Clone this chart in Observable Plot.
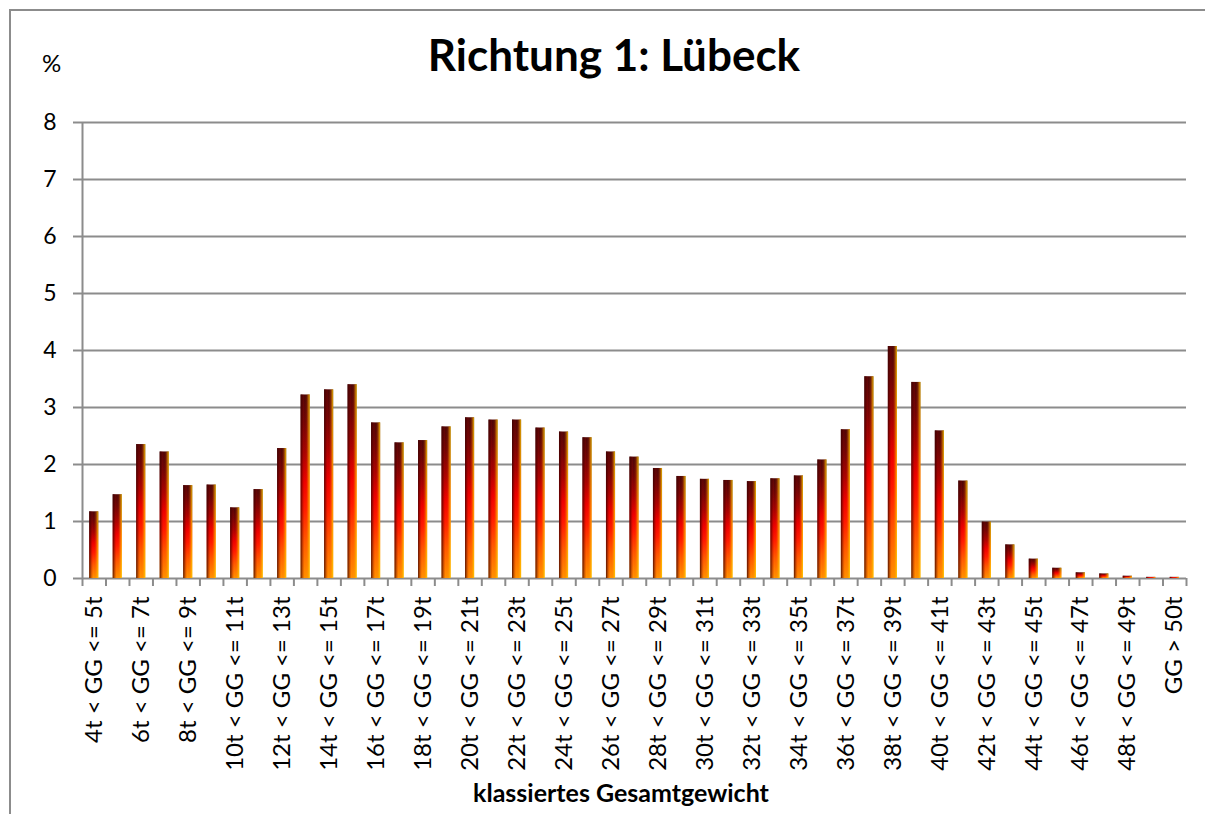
<!DOCTYPE html>
<html>
<head>
<meta charset="utf-8">
<script src="https://cdn.jsdelivr.net/npm/d3@7"></script>
<script src="https://cdn.jsdelivr.net/npm/@observablehq/plot@0.6"></script>
<style>
  body { margin: 0; background: #fff; }
  #wrap { position: relative; width: 1205px; height: 814px; overflow: hidden; background: #fff; }
  #chart { position: absolute; left: 0; top: 0; }
  #border { position: absolute; left: 9px; top: 9px; width: 1300px; height: 900px;
            border-left: 2px solid #8c8c8c; border-top: 2px solid #8c8c8c; pointer-events: none; }
</style>
</head>
<body>
<div id="wrap"><div id="chart"></div><div id="border"></div></div>
<svg width="0" height="0" style="position:absolute;left:0;top:0">
  <defs>
    <linearGradient id="gV" x1="0" y1="0" x2="0" y2="1">
      <stop offset="0%" stop-color="#4a0707"/>
      <stop offset="15%" stop-color="#6e0505"/>
      <stop offset="32%" stop-color="#a80202"/>
      <stop offset="48%" stop-color="#ee0000"/>
      <stop offset="62%" stop-color="#ff1a00"/>
      <stop offset="80%" stop-color="#ff5a00"/>
      <stop offset="100%" stop-color="#ff9400"/>
    </linearGradient>
    <linearGradient id="gH" x1="0" y1="0" x2="1" y2="0">
      <stop offset="0%" stop-color="#3a0000" stop-opacity="0.85"/>
      <stop offset="22%" stop-color="#600000" stop-opacity="0.35"/>
      <stop offset="45%" stop-color="#ff0000" stop-opacity="0"/>
      <stop offset="65%" stop-color="#ff8000" stop-opacity="0.1"/>
      <stop offset="100%" stop-color="#ffd400" stop-opacity="0.85"/>
    </linearGradient>
  </defs>
</svg>
<script>
const categories = [
  "4t < GG <= 5t", "5t < GG <= 6t", "6t < GG <= 7t", "7t < GG <= 8t", "8t < GG <= 9t",
  "9t < GG <= 10t", "10t < GG <= 11t", "11t < GG <= 12t", "12t < GG <= 13t", "13t < GG <= 14t",
  "14t < GG <= 15t", "15t < GG <= 16t", "16t < GG <= 17t", "17t < GG <= 18t", "18t < GG <= 19t",
  "19t < GG <= 20t", "20t < GG <= 21t", "21t < GG <= 22t", "22t < GG <= 23t", "23t < GG <= 24t",
  "24t < GG <= 25t", "25t < GG <= 26t", "26t < GG <= 27t", "27t < GG <= 28t", "28t < GG <= 29t",
  "29t < GG <= 30t", "30t < GG <= 31t", "31t < GG <= 32t", "32t < GG <= 33t", "33t < GG <= 34t",
  "34t < GG <= 35t", "35t < GG <= 36t", "36t < GG <= 37t", "37t < GG <= 38t", "38t < GG <= 39t",
  "39t < GG <= 40t", "40t < GG <= 41t", "41t < GG <= 42t", "42t < GG <= 43t", "43t < GG <= 44t",
  "44t < GG <= 45t", "45t < GG <= 46t", "46t < GG <= 47t", "47t < GG <= 48t", "48t < GG <= 49t",
  "49t < GG <= 50t", "GG > 50t"
];
const values = [
  1.17, 1.47, 2.35, 2.22, 1.63, 1.64, 1.24, 1.56, 2.28, 3.22,
  3.31, 3.40, 2.73, 2.38, 2.42, 2.66, 2.82, 2.78, 2.78, 2.64,
  2.57, 2.47, 2.22, 2.13, 1.93, 1.79, 1.74, 1.72, 1.70, 1.75,
  1.80, 2.08, 2.61, 3.54, 4.07, 3.44, 2.59, 1.71, 0.99, 0.59,
  0.34, 0.18, 0.10, 0.08, 0.04, 0.02, 0.02
];
const yTicks = [0, 1, 2, 3, 4, 5, 6, 7, 8];
const titleText = "Richtung 1: Lübeck";
const yUnitText = "%";
const xTitleText = "klassiertes Gesamtgewicht";

const N = categories.length;
const table = categories.map((c, i) => ({cat: c, i, value: values[i]}));
const shownLabels = table.filter((d, i) => i % 2 === 0);
const gray = "#8c8c8c";
const font = "Lato, 'Open Sans', sans-serif";

const plot = Plot.plot({
  width: 1205,
  height: 814,
  marginTop: 122,
  marginBottom: 236,
  marginLeft: 82,
  marginRight: 19,
  style: {background: "transparent", fontFamily: font, color: "#000", overflow: "visible"},
  x: {domain: [0, N], axis: null},
  y: {domain: [0, 8], axis: null},
  marks: [
    Plot.ruleY(yTicks, {stroke: gray, strokeWidth: 2}),
    Plot.ruleX([0], {stroke: gray, strokeWidth: 2}),
    Plot.axisY({ticks: yTicks, tickSize: 9, tickPadding: 17, stroke: gray, strokeWidth: 2,
                fill: "#000", fontSize: 23, label: null, tickFormat: d => String(d)}),
    Plot.axisX({ticks: d3.range(N + 1), tickSize: 8, stroke: gray, strokeWidth: 2,
                tickFormat: () => "", label: null}),
    Plot.axisX({ticks: shownLabels.map(d => d.i + 0.5), tickSize: 0, tickPadding: 18, tickRotate: -90,
                tickFormat: v => categories[Math.floor(v)], fill: "#000", fontSize: 24, label: null}),
    Plot.rectY(table, {x1: "i", x2: d => d.i + 1, y: "value", insetLeft: 7.2, insetRight: 7.2, fill: "url(#gV)"}),
    Plot.rectY(table, {x1: "i", x2: d => d.i + 1, y: "value", insetLeft: 7.2, insetRight: 7.2, fill: "url(#gH)"})
  ]
});
document.getElementById("chart").appendChild(plot);

const svg = d3.select(plot);
svg.append("text").attr("x", 614).attr("y", 71).attr("text-anchor", "middle")
  .attr("font-family", font).attr("font-weight", "bold").attr("font-size", 44).attr("fill", "#000")
  .text(titleText);
svg.append("text").attr("x", 42).attr("y", 72).attr("text-anchor", "start")
  .attr("font-family", font).attr("font-size", 24).attr("fill", "#000")
  .text(yUnitText);
svg.append("text").attr("x", 621).attr("y", 802).attr("text-anchor", "middle")
  .attr("font-family", font).attr("font-weight", "bold").attr("font-size", 25).attr("fill", "#000")
  .text(xTitleText);
</script>
</body>
</html>
